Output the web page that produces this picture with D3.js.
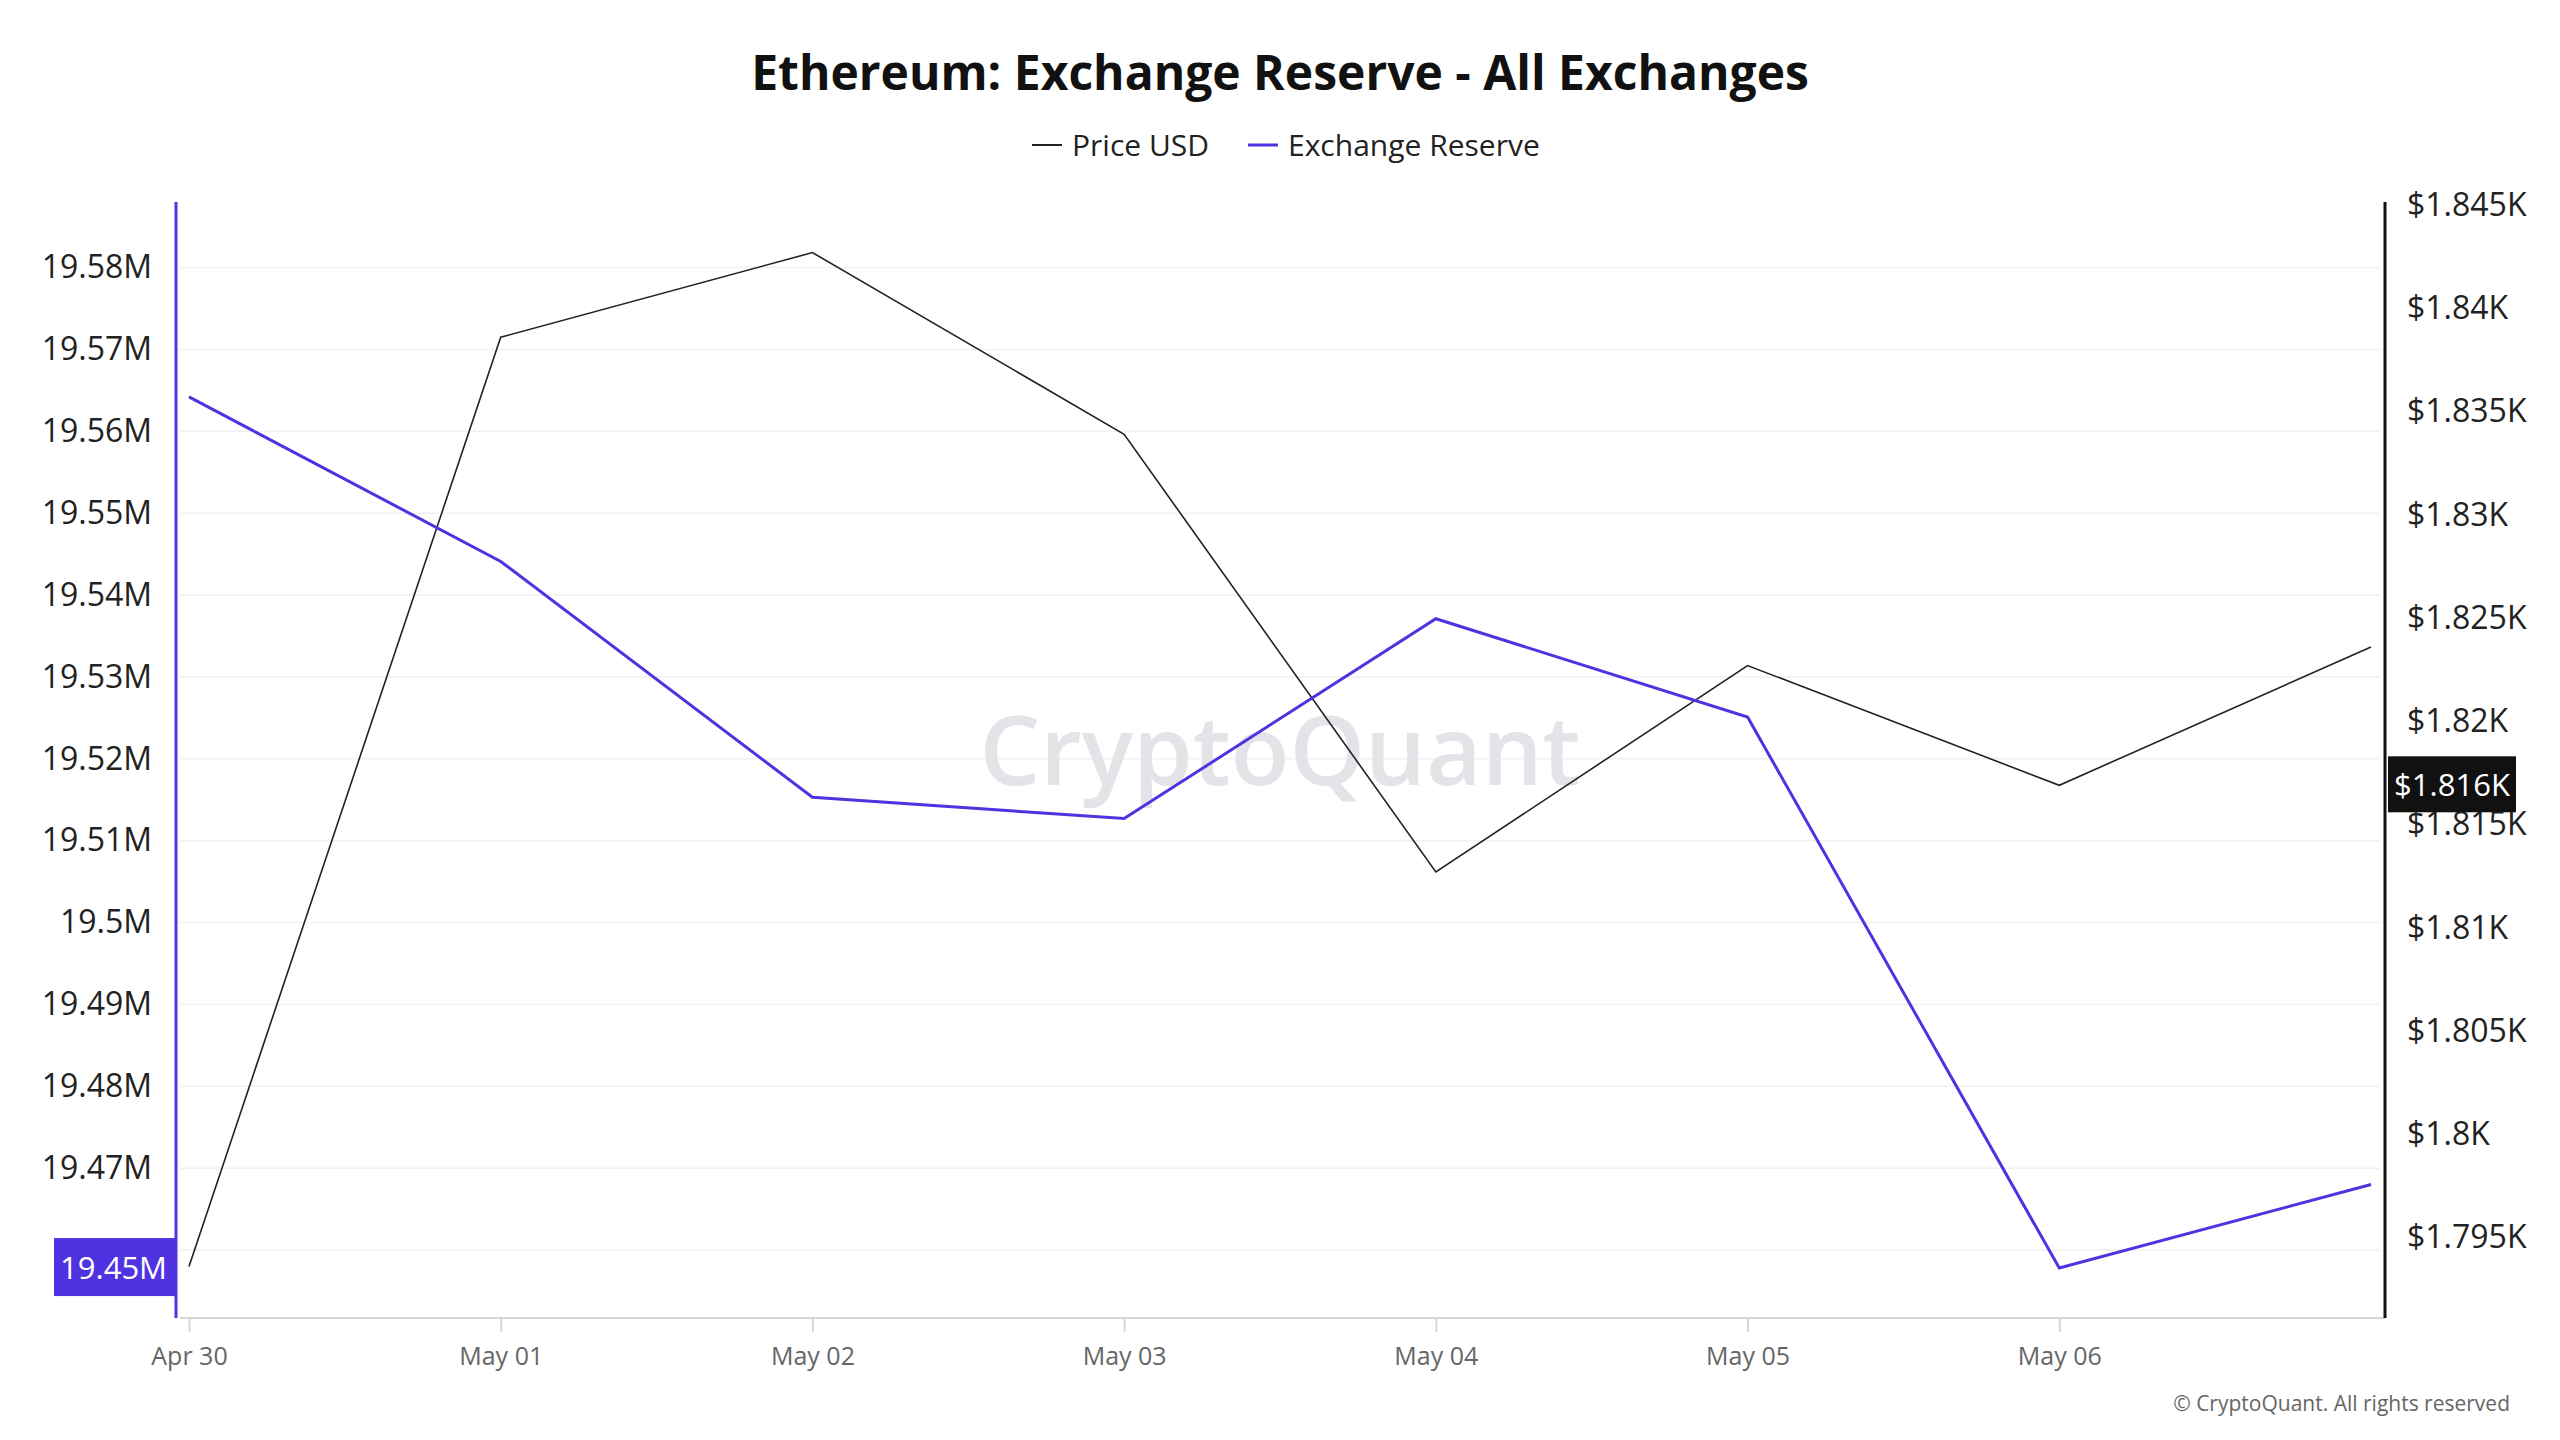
<!DOCTYPE html>
<html><head><meta charset="utf-8">
<script src="https://cdn.jsdelivr.net/npm/d3@7"></script>
<style>body{margin:0;background:#fff}svg{font-family:"Open Sans",sans-serif}</style>
</head><body><svg id="c" width="2560" height="1440"></svg>
<script>
var dates = ['2024-04-30','2024-05-01','2024-05-02','2024-05-03','2024-05-04','2024-05-05','2024-05-06','2024-05-07'];
var reserve = [19.5642, 19.5441, 19.5153, 19.5127, 19.5371, 19.5251, 19.4578, 19.4680];
var price = [1793.6, 1838.6, 1842.7, 1833.9, 1812.7, 1822.7, 1816.9, 1823.6];
var gridTicks = [19.46, 19.47, 19.48, 19.49, 19.50, 19.51, 19.52, 19.53, 19.54, 19.55, 19.56, 19.57, 19.58];
var leftTicks = [19.47, 19.48, 19.49, 19.50, 19.51, 19.52, 19.53, 19.54, 19.55, 19.56, 19.57, 19.58];
var rightTicks = [1795, 1800, 1805, 1810, 1815, 1820, 1825, 1830, 1835, 1840, 1845];
var labelIdx = 6;

var svg = d3.select('#c');
var parse = d3.utcParse('%Y-%m-%d');
var xd = dates.map(parse);
var x = d3.scaleUtc().domain([xd[0], xd[7]]).range([189, 2371]);
var yL = d3.scaleLinear().domain([19.4517, 19.588]).range([1318, 202]);
var yR = d3.scaleLinear().domain([1791.1, 1845.15]).range([1318, 202]);
var purple = '#4f33e0';

// grid
svg.append('g').selectAll('line').data(gridTicks).join('line')
  .attr('x1', 180).attr('x2', 2380).attr('y1', yL).attr('y2', yL)
  .attr('stroke', '#f1f1f4').attr('stroke-width', 1.5);

// watermark
svg.append('text').attr('x', 1280).attr('y', 785).attr('text-anchor', 'middle')
  .attr('font-size', 96).attr('font-weight', 600).attr('fill', '#e3e3e8').text('CryptoQuant');

// x axis
var xa = svg.append('g').attr('transform', 'translate(0,1318)')
  .call(d3.axisBottom(x).tickValues(xd.slice(0, 7)).tickFormat(d3.utcFormat('%b %d')).tickSize(14).tickSizeOuter(0));
xa.select('.domain').attr('stroke', '#d5d5dd').attr('stroke-width', 2).attr('d', 'M180,0H2385');
xa.selectAll('.tick line').attr('stroke', '#d5d5dd').attr('stroke-width', 2);
xa.selectAll('.tick text').attr('font-size', 25).attr('fill', '#666').attr('dy', 30).attr('font-family', '"Open Sans",sans-serif');

// left axis
var la = svg.append('g').attr('transform', 'translate(176,0)')
  .call(d3.axisLeft(yL).tickValues(leftTicks).tickFormat(function(d){ return (+d.toFixed(2)) + 'M'; }).tickSize(0).tickPadding(24));
la.select('.domain').attr('stroke', purple).attr('stroke-width', 3).attr('d', 'M0,202V1318');
la.selectAll('.tick text').attr('font-size', 32).attr('fill', '#222').attr('font-family', '"Open Sans",sans-serif');

// right axis
var ra = svg.append('g').attr('transform', 'translate(2385,0)')
  .call(d3.axisRight(yR).tickValues(rightTicks).tickFormat(function(d){ return '$' + (+(d/1000).toFixed(3)) + 'K'; }).tickSize(0).tickPadding(22));
ra.select('.domain').attr('stroke', '#111').attr('stroke-width', 3).attr('d', 'M0,202V1318');
ra.selectAll('.tick text').attr('font-size', 32).attr('fill', '#222').attr('font-family', '"Open Sans",sans-serif');

// lines
svg.append('path').datum(price).attr('fill', 'none').attr('stroke', '#222').attr('stroke-width', 1.6)
  .attr('d', d3.line().x(function(d, i){ return x(xd[i]); }).y(function(d){ return yR(d); }));
svg.append('path').datum(reserve).attr('fill', 'none').attr('stroke', purple).attr('stroke-width', 3)
  .attr('d', d3.line().x(function(d, i){ return x(xd[i]); }).y(function(d){ return yL(d); }));

// value labels
var ly = yL(reserve[labelIdx]);
svg.append('rect').attr('x', 54).attr('y', ly - 30).attr('width', 122).attr('height', 58).attr('fill', purple);
svg.append('text').attr('x', 167).attr('y', ly + 11).attr('text-anchor', 'end').attr('font-size', 31).attr('fill', '#fff')
  .text((Math.floor(reserve[labelIdx] * 100) / 100) + 'M');
var ry = yR(price[labelIdx]);
svg.append('rect').attr('x', 2388).attr('y', ry - 29).attr('width', 128).attr('height', 56).attr('fill', '#111');
svg.append('text').attr('x', 2452).attr('y', ry + 11).attr('text-anchor', 'middle').attr('font-size', 31).attr('fill', '#fff')
  .text('$' + (Math.floor(price[labelIdx]) / 1000).toFixed(3) + 'K');

// title + legend
svg.append('text').attr('x', 1280).attr('y', 90).attr('text-anchor', 'middle').attr('font-size', 48).attr('font-weight', 700)
  .attr('fill', '#111').text('Ethereum: Exchange Reserve - All Exchanges');
var lg = svg.append('g').attr('font-size', 30).attr('fill', '#222');
lg.append('line').attr('x1', 1032).attr('x2', 1062).attr('y1', 145).attr('y2', 145).attr('stroke', '#222').attr('stroke-width', 2);
lg.append('text').attr('x', 1072).attr('y', 156).text('Price USD');
lg.append('line').attr('x1', 1248).attr('x2', 1278).attr('y1', 145).attr('y2', 145).attr('stroke', purple).attr('stroke-width', 3);
lg.append('text').attr('x', 1288).attr('y', 156).text('Exchange Reserve');

svg.append('text').attr('x', 2510).attr('y', 1411).attr('text-anchor', 'end').attr('font-size', 21).attr('fill', '#666')
  .text('© CryptoQuant. All rights reserved');
</script></body></html>
